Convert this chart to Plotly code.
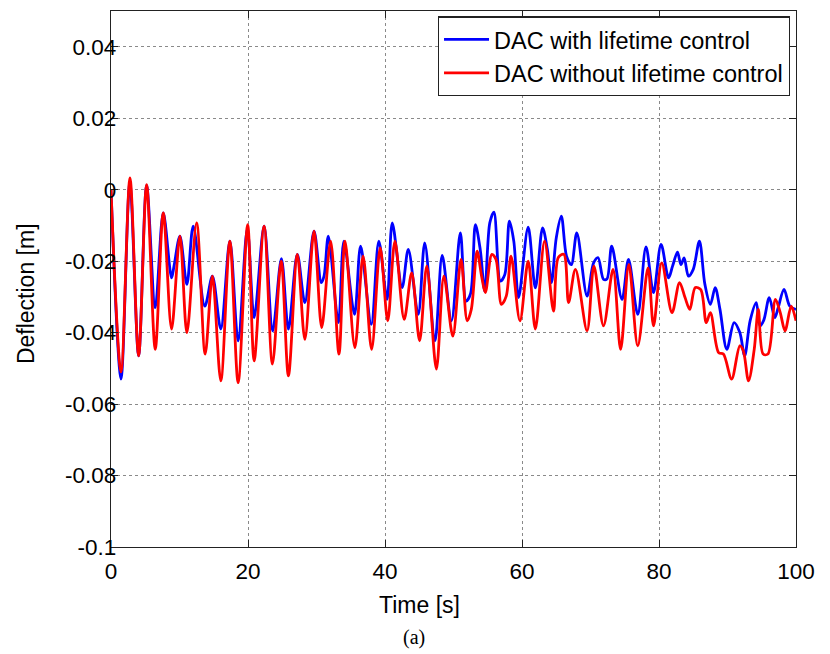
import plotly.graph_objects as go

# Time [s] and deflection [m]
t_with = [0.0, 1.46, 2.75, 4.03, 5.2, 6.46, 7.63, 8.84, 9.2, 10.06, 11.08, 12.0, 13.7, 14.8, 16.03,
          17.35, 18.56, 19.9, 20.9, 22.35, 23.6, 24.88, 25.9, 27.2, 28.3, 29.64, 30.7, 31.1, 31.73,
          33.2, 34.0, 35.55, 36.44, 38.0, 39.1, 40.3, 41.06, 42.5, 43.4, 44.85, 45.8, 47.3, 48.35,
          49.7, 51.0, 51.85, 52.5, 53.2, 53.9, 54.56, 55.3, 55.9, 56.85, 57.5, 58.16, 58.8, 59.5,
          60.9, 61.95, 63.0, 63.7, 64.3, 65.0, 65.74, 66.5, 67.2, 68.0, 69.5, 70.45, 71.1, 71.9,
          72.4, 73.1, 74.6, 75.55, 76.9, 78.1, 79.2, 80.3, 81.4, 81.98, 82.7, 83.2, 83.67, 84.3,
          85.0, 85.9, 86.7, 87.5, 88.2, 88.9, 89.9, 90.96, 91.8, 92.5, 93.3, 94.2, 94.75, 95.3,
          96.1, 96.9, 97.4, 98.25, 99.1, 100.0]
d_with = [0.0, -0.053, 0.002, -0.0465, 0.0012, -0.033, -0.0065, -0.0247, -0.0214, -0.013, -0.0265,
          -0.0102, -0.0326, -0.0242, -0.039, -0.0144, -0.0423, -0.011, -0.0358, -0.0102, -0.0395,
          -0.0193, -0.039, -0.0181, -0.0316, -0.0116, -0.026, -0.0242, -0.013, -0.0372, -0.0144,
          -0.0349, -0.0158, -0.0377, -0.0144, -0.0307, -0.0093, -0.0274, -0.0167, -0.0349, -0.0149,
          -0.0423, -0.0184, -0.0367, -0.0121, -0.0312, -0.029, -0.0098, -0.0167, -0.0284, -0.0093,
          -0.0063, -0.0256, -0.0237, -0.0088, -0.0144, -0.0302, -0.0105, -0.0275, -0.0107, -0.0167,
          -0.026, -0.0135, -0.0074, -0.0186, -0.021, -0.0121, -0.0298, -0.0205, -0.019, -0.0251,
          -0.025, -0.0158, -0.0307, -0.0195, -0.0349, -0.016, -0.0288, -0.0153, -0.0247, -0.0214,
          -0.0175, -0.021, -0.0191, -0.0242, -0.0223, -0.0144, -0.0265, -0.0321, -0.0274, -0.0335,
          -0.0447, -0.0372, -0.040, -0.0465, -0.0367, -0.0316, -0.0381, -0.0365, -0.0302, -0.0358,
          -0.033, -0.0279, -0.0326, -0.0335]

t_without = [0.0, 1.46, 2.77, 4.03, 5.2, 6.46, 7.63, 8.84, 10.06, 11.08, 12.5, 13.75, 14.8, 16.03,
             17.35, 18.56, 19.95, 20.9, 22.35, 23.57, 24.85, 25.9, 27.2, 28.3, 29.64, 30.76, 32.06,
             33.28, 34.16, 35.6, 36.8, 38.05, 39.3, 40.4, 41.45, 42.8, 43.9, 45.05, 46.1, 47.5, 48.6,
             49.9, 51.1, 52.0, 52.6, 53.45, 54.1, 54.65, 55.6, 56.2, 57.0, 57.7, 58.4, 59.7, 60.9,
             61.95, 63.3, 64.6, 65.3, 66.1, 66.8, 67.8, 69.5, 70.5, 71.9, 73.3, 74.4, 75.6, 76.9,
             78.4, 79.2, 80.4, 81.9, 83.0, 83.8, 84.5, 85.3, 86.1, 86.9, 87.5, 88.7, 89.4, 90.6,
             91.8, 92.3, 93.07, 93.9, 94.5, 95.2, 95.9, 97.0, 97.7, 98.4, 99.3, 100.0]
d_without = [0.0, -0.051, 0.0033, -0.0465, 0.0014, -0.0447, -0.0065, -0.039, -0.013, -0.040,
             -0.0093, -0.046, -0.0242, -0.0535, -0.0144, -0.054, -0.0098, -0.0479, -0.0102, -0.0488,
             -0.020, -0.0521, -0.0181, -0.0419, -0.0116, -0.0386, -0.0144, -0.046, -0.0144, -0.0442,
             -0.0186, -0.0447, -0.0163, -0.0367, -0.0144, -0.0363, -0.0233, -0.0423, -0.0214, -0.0502,
             -0.0242, -0.041, -0.0195, -0.0367, -0.0335, -0.0172, -0.0242, -0.0288, -0.0181, -0.0195,
             -0.0321, -0.0298, -0.0186, -0.0367, -0.020, -0.039, -0.0144, -0.034, -0.019, -0.0181,
             -0.0316, -0.0223, -0.0395, -0.0214, -0.0381, -0.0223, -0.0447, -0.0209, -0.0437, -0.0219,
             -0.0381, -0.0205, -0.0344, -0.026, -0.0302, -0.0335, -0.0274, -0.028, -0.0372, -0.0344,
             -0.0456, -0.046, -0.053, -0.0437, -0.045, -0.0535, -0.0447, -0.0335, -0.046, -0.046,
             -0.0307, -0.0344, -0.0395, -0.0326, -0.0367]

x_ticks = [0, 20, 40, 60, 80, 100]
y_ticks = [0.04, 0.02, 0, -0.02, -0.04, -0.06, -0.08, -0.1]
y_tick_text = ["0.04", "0.02", "0", "-0.02", "-0.04", "-0.06", "-0.08", "-0.1"]

FONT = "Liberation Sans, Arial, sans-serif"

fig = go.Figure()
fig.add_trace(go.Scatter(x=t_with, y=d_with, mode="lines", name="DAC with lifetime control",
                         line=dict(color="#0000ff", width=2.8, shape="spline", smoothing=0.9)))
fig.add_trace(go.Scatter(x=t_without, y=d_without, mode="lines", name="DAC without lifetime control",
                         line=dict(color="#ff0000", width=2.8, shape="spline", smoothing=0.9)))

axis_common = dict(showline=True, linecolor="#222222", linewidth=1.4, mirror="allticks",
                   ticks="inside", ticklen=7, tickcolor="#222222", showgrid=True,
                   gridcolor="#8a8a8a", griddash="dot", gridwidth=1, zeroline=False,
                   tickfont=dict(family=FONT, size=22.5, color="black"))

fig.update_xaxes(range=[0, 100], tickvals=x_ticks, ticktext=[str(v) for v in x_ticks],
                 ticklabelstandoff=4, **axis_common)
fig.update_yaxes(range=[-0.1, 0.05], tickvals=y_ticks, ticktext=y_tick_text,
                 ticklabelstandoff=-11, **axis_common)

fig.update_layout(
    width=830, height=654,
    margin=dict(l=111, r=34, t=11, b=107),
    paper_bgcolor="white", plot_bgcolor="white",
    showlegend=True,
    legend=dict(x=0.991, y=0.99, xanchor="right", yanchor="top",
                bgcolor="white", bordercolor="#222222", borderwidth=1.2,
                font=dict(family=FONT, size=23.5, color="black"),
                itemwidth=45, tracegroupgap=0),
    annotations=[
        dict(text="Time [s]", xref="paper", yref="paper", x=0.451, y=-0.108,
             xanchor="center", yanchor="middle", showarrow=False,
             font=dict(family=FONT, size=23, color="black")),
        dict(text="Deflection [m]", xref="paper", yref="paper", x=-0.124, y=0.472,
             xanchor="center", yanchor="middle", showarrow=False, textangle=-90,
             font=dict(family=FONT, size=23, color="black")),
        dict(text="(a)", xref="paper", yref="paper", x=0.443, y=-0.168,
             xanchor="center", yanchor="middle", showarrow=False,
             font=dict(family="Liberation Serif, Times New Roman, serif", size=20, color="black")),
    ],
)

fig.write_html("out.html")
